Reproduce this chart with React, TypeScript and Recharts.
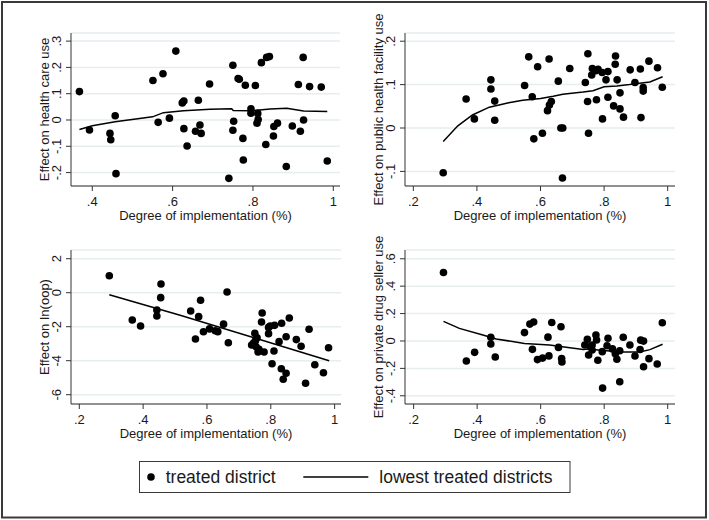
import React from 'react';
import { ScatterChart, Scatter, XAxis, YAxis, CartesianGrid, Label } from 'recharts';

const FONT = '"Liberation Sans", Arial, Helvetica, sans-serif';
const TEXT = '#1a1a1a';
const AXIS = '#333333';
const GRID = '#e6eef0';

// ---- data: [degree of implementation, effect] ----
const healthCareUse: number[][] = [
  [0.368, 0.108], [0.393, -0.038], [0.444, -0.051], [0.446, -0.075], [0.457, 0.016], [0.459, -0.204],
  [0.551, 0.150], [0.564, -0.009], [0.576, 0.176], [0.592, 0.007], [0.608, 0.262], [0.624, 0.065],
  [0.628, 0.072], [0.628, -0.033], [0.636, -0.099], [0.657, -0.043], [0.664, 0.075], [0.668, -0.019],
  [0.671, -0.051], [0.692, 0.137], [0.740, -0.222], [0.750, 0.208], [0.752, -0.005], [0.750, -0.039],
  [0.763, 0.158], [0.766, 0.155], [0.775, -0.070], [0.776, -0.152], [0.781, 0.132], [0.795, 0.043],
  [0.795, 0.026], [0.806, 0.131], [0.812, 0.025], [0.813, 0.002], [0.810, -0.012], [0.821, 0.218],
  [0.834, 0.238], [0.841, 0.241], [0.832, -0.093], [0.852, -0.025], [0.861, -0.012], [0.851, -0.061],
  [0.883, -0.177], [0.898, -0.023], [0.913, 0.135], [0.918, -0.043], [0.925, 0.238], [0.926, 0.000],
  [0.941, 0.127], [0.970, 0.125], [0.985, -0.156],
];
const healthCareCurve: number[][] = [
  [0.368, -0.036], [0.40, -0.022], [0.457, -0.007], [0.55, 0.012], [0.577, 0.028], [0.627, 0.035],
  [0.693, 0.041], [0.747, 0.043], [0.751, 0.036], [0.792, 0.035], [0.843, 0.042], [0.884, 0.045],
  [0.926, 0.034], [0.985, 0.032],
];

const publicFacility: number[][] = [
  [0.294, -0.103], [0.366, 0.067], [0.392, 0.021], [0.444, 0.111], [0.444, 0.090], [0.456, 0.062],
  [0.456, 0.018], [0.550, 0.098], [0.563, 0.164], [0.574, 0.072], [0.579, -0.025], [0.591, 0.141],
  [0.606, -0.012], [0.622, 0.040], [0.628, 0.053], [0.634, 0.061], [0.627, 0.159], [0.656, 0.108],
  [0.664, 0.000], [0.670, 0.000], [0.669, -0.115], [0.692, 0.137], [0.741, 0.105], [0.749, 0.171],
  [0.748, 0.061], [0.751, -0.012], [0.763, 0.137], [0.761, 0.122], [0.774, 0.132], [0.781, 0.135],
  [0.776, 0.065], [0.794, 0.128], [0.806, 0.111], [0.812, 0.130], [0.795, 0.021], [0.812, 0.071],
  [0.830, 0.051], [0.836, 0.166], [0.835, 0.147], [0.841, 0.111], [0.850, 0.081], [0.850, 0.044],
  [0.861, 0.025], [0.882, 0.134], [0.897, 0.105], [0.914, 0.136], [0.916, 0.024], [0.923, 0.093],
  [0.923, 0.085], [0.941, 0.154], [0.968, 0.139], [0.983, 0.094],
];
const publicFacilityCurve: number[][] = [
  [0.294, -0.031], [0.34, 0.005], [0.386, 0.030], [0.439, 0.048], [0.50, 0.058], [0.544, 0.064],
  [0.60, 0.068], [0.64, 0.073], [0.67, 0.078], [0.734, 0.083], [0.765, 0.086], [0.80, 0.095],
  [0.84, 0.097], [0.88, 0.100], [0.944, 0.106], [0.984, 0.118],
];

const lnOop: number[][] = [
  [0.294, 1.0], [0.366, -1.61], [0.392, -1.96], [0.443, -1.02], [0.443, -1.37], [0.456, 0.51],
  [0.455, -0.29], [0.549, -1.08], [0.564, -2.72], [0.574, -1.41], [0.580, -0.44], [0.589, -2.30],
  [0.608, -2.13], [0.626, -2.24], [0.634, -2.29], [0.652, -1.85], [0.663, 0.04], [0.667, -2.94],
  [0.740, -3.08], [0.746, -2.96], [0.754, -3.18], [0.763, -3.33], [0.760, -3.49], [0.779, -3.49],
  [0.752, -2.82], [0.757, -2.65], [0.750, -2.39], [0.773, -1.19], [0.771, -1.72], [0.793, -2.04],
  [0.798, -1.96], [0.812, -1.92], [0.793, -2.41], [0.826, -2.88], [0.834, -1.80], [0.848, -2.59],
  [0.858, -1.49], [0.810, -3.43], [0.804, -4.18], [0.833, -4.47], [0.848, -4.74], [0.839, -5.09],
  [0.880, -2.76], [0.895, -3.15], [0.920, -2.15], [0.909, -5.33], [0.938, -4.24], [0.965, -4.71],
  [0.981, -3.24],
];
const lnOopCurve: number[][] = [
  [0.294, -0.12], [0.516, -1.33], [0.75, -2.66], [0.983, -4.0],
];

const drugSeller: number[][] = [
  [0.294, 0.50], [0.366, -0.146], [0.392, -0.083], [0.443, 0.027], [0.443, -0.022], [0.457, -0.117],
  [0.549, 0.061], [0.566, 0.123], [0.578, 0.138], [0.574, -0.061], [0.590, -0.136], [0.606, -0.125],
  [0.623, 0.028], [0.626, -0.109], [0.635, 0.135], [0.656, -0.047], [0.664, 0.104], [0.666, -0.128],
  [0.667, -0.154], [0.747, 0.012], [0.774, 0.044], [0.776, 0.007], [0.739, -0.029], [0.757, -0.041],
  [0.762, -0.066], [0.762, -0.030], [0.751, -0.102], [0.780, -0.141], [0.794, -0.078], [0.812, 0.020],
  [0.809, -0.035], [0.826, -0.058], [0.835, -0.093], [0.840, -0.133], [0.849, -0.071], [0.860, 0.027],
  [0.881, -0.029], [0.897, -0.110], [0.913, -0.062], [0.915, 0.006], [0.924, -0.001], [0.924, -0.188],
  [0.941, -0.129], [0.967, -0.168], [0.983, 0.133], [0.795, -0.344], [0.849, -0.298],
];
const drugSellerCurve: number[][] = [
  [0.294, 0.143], [0.344, 0.092], [0.418, 0.044], [0.46, 0.015], [0.549, -0.018], [0.628, -0.029],
  [0.68, -0.045], [0.734, -0.062], [0.75, -0.058], [0.797, -0.07], [0.86, -0.08], [0.912, -0.08],
  [0.944, -0.063], [0.984, -0.024],
];

// ---- ticks and labels ----
const xTicksA = [0.4, 0.6, 0.8, 1];
const xLabelsA = ['.4', '.6', '.8', '1'];
const xTicksB = [0.2, 0.4, 0.6, 0.8, 1];
const xLabelsB = ['.2', '.4', '.6', '.8', '1'];
const yTicks1 = [-0.2, -0.1, 0, 0.1, 0.2, 0.3];
const yLabels1 = ['-.2', '-.1', '0', '.1', '.2', '.3'];
const yTicks2 = [-0.1, 0, 0.1, 0.2];
const yLabels2 = ['-.1', '0', '.1', '.2'];
const yTicks3 = [-6, -4, -2, 0, 2];
const yLabels3 = ['-6', '-4', '-2', '0', '2'];
const yTicks4 = [-0.4, -0.2, 0, 0.2, 0.4, 0.6];
const yLabels4 = ['-.4', '-.2', '0', '.2', '.4', '.6'];

const xTitle = 'Degree of implementation (%)';
const yTitles = [
  'Effect on health care use',
  'Effect on public health facility use',
  'Effect on In(oop)',
  'Effect on private drug seller use',
];
const legendLabels = ['treated district', 'lowest treated districts'];

const lookup = (ticks: number[], labels: string[], v: number) => {
  const i = ticks.findIndex((t) => Math.abs(t - v) < 1e-9);
  return i >= 0 ? labels[i] : String(v);
};

const makeXTick = (ticks: number[], labels: string[]) => (props: any) => {
  const { x, y, payload } = props;
  return (
    <text x={x} y={y + 12.5} textAnchor="middle" fontSize={13} fontFamily={FONT} fill={TEXT}>
      {lookup(ticks, labels, payload.value)}
    </text>
  );
};

const makeYTick = (ticks: number[], labels: string[]) => (props: any) => {
  const { x, y, payload } = props;
  const bx = x - 2;
  return (
    <text
      x={bx}
      y={y}
      transform={`rotate(-90, ${bx}, ${y})`}
      textAnchor="middle"
      fontSize={13}
      fontFamily={FONT}
      fill={TEXT}
    >
      {lookup(ticks, labels, payload.value)}
    </text>
  );
};

const Dot = (props: any) => <circle cx={props.cx} cy={props.cy} r={3.8} fill="#000" />;
const NoShape = () => <g />;

type PanelProps = {
  left: number;
  top: number;
  marginTop: number;
  marginRight: number;
  yAxisWidth: number;
  xAxisHeight: number;
  xDomain: number[];
  yDomain: number[];
  xTicks: number[];
  xLabels: string[];
  yTicks: number[];
  yLabels: string[];
  yTitle: string;
  points: number[][];
  curve: number[][];
};

function Panel(p: PanelProps) {
  const pts = p.points.map(([x, y]) => ({ x, y }));
  const crv = p.curve.map(([x, y]) => ({ x, y }));
  const W = 354;
  const H = 230;
  return (
    <div style={{ position: 'absolute', left: p.left, top: p.top }}>
      <ScatterChart width={W} height={H} margin={{ top: p.marginTop, right: p.marginRight, left: 0, bottom: 0 }}>
        <CartesianGrid horizontal vertical={false} stroke={GRID} strokeWidth={1.5} />
        <XAxis
          type="number"
          dataKey="x"
          domain={p.xDomain}
          ticks={p.xTicks}
          interval={0}
          allowDataOverflow
          height={p.xAxisHeight}
          axisLine={{ stroke: AXIS }}
          tickLine={{ stroke: AXIS }}
          tickSize={5}
          tickMargin={2}
          tick={makeXTick(p.xTicks, p.xLabels)}
        >
          <Label
            content={(lp: any) => {
              const vb = lp.viewBox;
              return (
                <text
                  x={vb.x + vb.width / 2}
                  y={vb.y + 34}
                  textAnchor="middle"
                  fontSize={13}
                  fontFamily={FONT}
                  fill={TEXT}
                >
                  {xTitle}
                </text>
              );
            }}
          />
        </XAxis>
        <YAxis
          type="number"
          dataKey="y"
          domain={p.yDomain}
          ticks={p.yTicks}
          interval={0}
          allowDataOverflow
          width={p.yAxisWidth}
          axisLine={{ stroke: AXIS }}
          tickLine={{ stroke: AXIS }}
          tickSize={5}
          tickMargin={3}
          tick={makeYTick(p.yTicks, p.yLabels)}
        >
          <Label
            content={(lp: any) => {
              const vb = lp.viewBox;
              const cx = vb.x + vb.width - 22;
              const cy = vb.y + vb.height / 2;
              return (
                <text
                  x={cx}
                  y={cy}
                  transform={`rotate(-90, ${cx}, ${cy})`}
                  textAnchor="middle"
                  fontSize={13}
                  fontFamily={FONT}
                  fill={TEXT}
                >
                  {p.yTitle}
                </text>
              );
            }}
          />
        </YAxis>
        <Scatter data={pts} shape={Dot} isAnimationActive={false} legendType="none" />
        <Scatter
          data={crv}
          shape={NoShape}
          line={{ stroke: '#000', strokeWidth: 1.5 }}
          lineType="joint"
          isAnimationActive={false}
          legendType="none"
        />
      </ScatterChart>
    </div>
  );
}

export default function App() {
  return (
    <div
      style={{
        position: 'absolute',
        left: 0,
        top: 0,
        width: 709,
        height: 520,
        background: '#fff',
        fontFamily: FONT,
      }}
    >
      <Panel
        left={0}
        top={0}
        marginTop={33}
        marginRight={14}
        yAxisWidth={71}
        xAxisHeight={44}
        xDomain={[0.347, 1.0167]}
        yDomain={[-0.251, 0.3308]}
        xTicks={xTicksA}
        xLabels={xLabelsA}
        yTicks={yTicks1}
        yLabels={yLabels1}
        yTitle={yTitles[0]}
        points={healthCareUse}
        curve={healthCareCurve}
      />
      <Panel
        left={354}
        top={0}
        marginTop={33}
        marginRight={33}
        yAxisWidth={51}
        xAxisHeight={44}
        xDomain={[0.1738, 1.023]}
        yDomain={[-0.1336, 0.2189]}
        xTicks={xTicksB}
        xLabels={xLabelsB}
        yTicks={yTicks2}
        yLabels={yLabels2}
        yTitle={yTitles[1]}
        points={publicFacility}
        curve={publicFacilityCurve}
      />
      <Panel
        left={0}
        top={230}
        marginTop={20}
        marginRight={13}
        yAxisWidth={71}
        xAxisHeight={56}
        xDomain={[0.174, 1.02]}
        yDomain={[-6.547, 2.512]}
        xTicks={xTicksB}
        xLabels={xLabelsB}
        yTicks={yTicks3}
        yLabels={yLabels3}
        yTitle={yTitles[2]}
        points={lnOop}
        curve={lnOopCurve}
      />
      <Panel
        left={354}
        top={230}
        marginTop={20}
        marginRight={33}
        yAxisWidth={51}
        xAxisHeight={56}
        xDomain={[0.1728, 1.023]}
        yDomain={[-0.46, 0.664]}
        xTicks={xTicksB}
        xLabels={xLabelsB}
        yTicks={yTicks4}
        yLabels={yLabels4}
        yTitle={yTitles[3]}
        points={drugSeller}
        curve={drugSellerCurve}
      />
      <svg
        width={709}
        height={520}
        style={{ position: 'absolute', left: 0, top: 0, pointerEvents: 'none' }}
      >
        <rect x={2} y={2} width={704} height={515.5} fill="none" stroke="#3a3a3a" strokeWidth={2} />
        <rect x={139.5} y={461.5} width={430.5} height={31} fill="#fff" stroke="#3a3a3a" strokeWidth={1} />
        <circle cx={151} cy={477} r={3.8} fill="#000" />
        <text x={165.7} y={483.3} fontSize={17.5} fontFamily={FONT} fill={TEXT}>
          {legendLabels[0]}
        </text>
        <line x1={303.3} x2={368.3} y1={477} y2={477} stroke="#000" strokeWidth={1.5} />
        <text x={379.3} y={483.3} fontSize={17.5} fontFamily={FONT} fill={TEXT}>
          {legendLabels[1]}
        </text>
      </svg>
    </div>
  );
}
